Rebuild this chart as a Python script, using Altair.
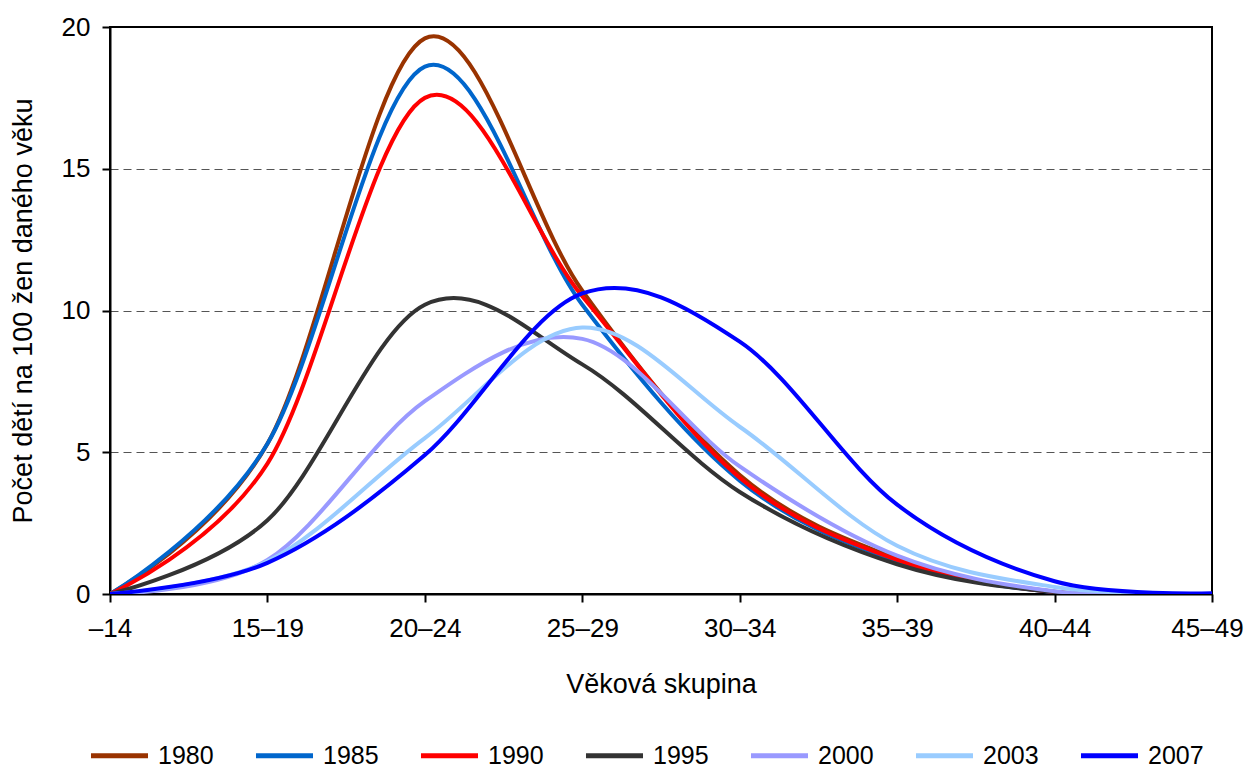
import altair as alt
import pandas as pd

categories = ["–14", "15–19", "20–24", "25–29", "30–34", "35–39", "40–44", "45–49"]
years = ["1980", "1985", "1990", "1995", "2000", "2003", "2007"]
colors = ["#993300", "#0066CC", "#FF0000", "#333333", "#9999FF", "#99CCFF", "#0000FF"]

v1980 = [0.0, 5.3, 19.6, 10.7, 4.2, 1.25, 0.08, 0.0]
v1985 = [0.0, 5.3, 18.6, 10.2, 4.0, 1.15, 0.06, 0.0]
v1990 = [0.0, 4.6, 17.5, 10.5, 4.1, 1.2, 0.07, 0.0]
v1995 = [0.0, 2.6, 10.2, 8.1, 3.6, 1.05, 0.07, 0.0]
v2000 = [0.0, 1.2, 6.8, 9.0, 4.5, 1.35, 0.1, 0.0]
v2003 = [0.0, 1.15, 5.5, 9.4, 5.9, 1.7, 0.25, 0.0]
v2007 = [0.0, 1.1, 4.9, 10.6, 8.9, 3.15, 0.45, 0.03]

series = [v1980, v1985, v1990, v1995, v2000, v2003, v2007]
rows = []
for yr, vals in zip(years, series):
    for i, (c, v) in enumerate(zip(categories, vals)):
        rows.append({"skupina": c, "hodnota": v, "rok": yr, "idx": i})
df = pd.DataFrame(rows)

font = "Liberation Sans"

chart = alt.Chart(df).mark_line(
    interpolate="cardinal", tension=0, strokeWidth=4, clip=True
).encode(
    x=alt.X("skupina:N", sort=categories,
            scale=alt.Scale(type="point", padding=0),
            axis=alt.Axis(title="Věková skupina", labelAngle=0, grid=False,
                          domainColor="black", domainWidth=2, tickColor="black",
                          tickWidth=2, tickSize=8, labelFontSize=26, labelPadding=13,
                          labelOffset=alt.condition("datum.value == '45–49'",
                                                    alt.value(-5), alt.value(0)),
                          titleFontSize=27, titleFontWeight="normal", titlePadding=30,
                          labelColor="black", titleColor="black")),
    y=alt.Y("hodnota:Q", scale=alt.Scale(domain=[0, 20], nice=False),
            axis=alt.Axis(title="Počet dětí na 100 žen daného věku", values=[0, 5, 10, 15, 20],
                          grid=True, gridDash=[8, 5], gridColor="#555555", gridWidth=1,
                          gridOpacity=alt.condition("datum.value == 0 || datum.value == 20",
                                                    alt.value(0), alt.value(1)),
                          domainColor="black", domainWidth=2, tickColor="black",
                          tickWidth=2, tickSize=8, labelFontSize=26, labelPadding=12,
                          titleFontSize=27, titleFontWeight="normal", titlePadding=24,
                          labelColor="black", titleColor="black")),
    color=alt.Color("rok:N", sort=years,
                    scale=alt.Scale(domain=years, range=colors),
                    legend=alt.Legend(title=None, orient="none", direction="horizontal",
                                      legendX=-22, legendY=697,
                                      symbolType="stroke", symbolSize=3250, symbolStrokeWidth=5,
                                      labelFontSize=25, labelColor="black", columnPadding=31,
                                      labelOffset=7)),
    order=alt.Order("idx:Q"),
).properties(
    width=1102, height=567,
    autosize=alt.AutoSizeParams(type="none"),
    padding={"left": 102, "top": 19, "right": 32, "bottom": 174}
).configure(
    font=font
).configure_view(
    stroke="black", strokeWidth=2
)

chart.save("out.html", embed_options={"renderer": "svg", "actions": False})
